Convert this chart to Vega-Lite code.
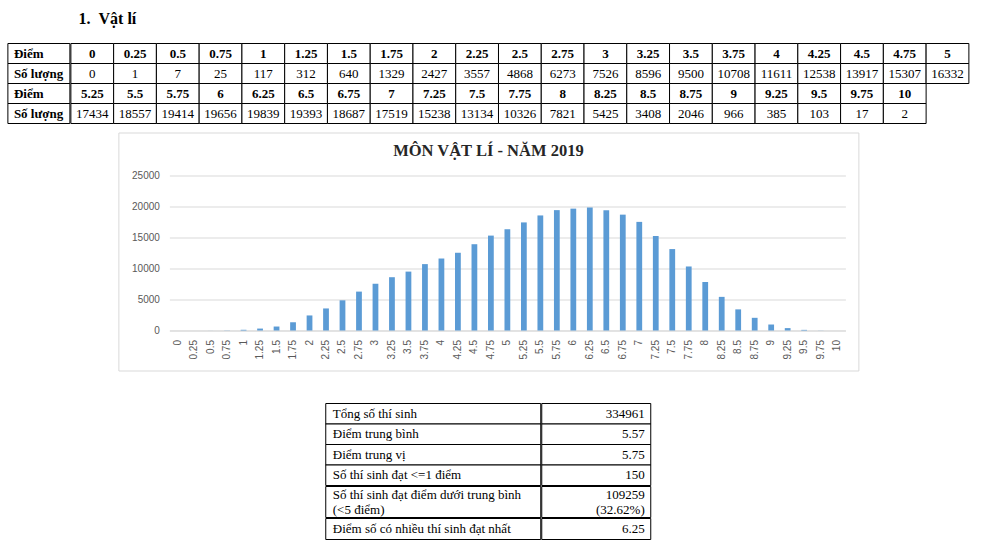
{
  "$schema": "https://vega.github.io/schema/vega-lite/v6.json",
  "background": "white",
  "padding": {"left": 6.5, "top": 10.5, "right": 5, "bottom": 2},
  "title": {"text": "1.\u00a0\u00a0Vật lí", "anchor": "start", "frame": "group", "dx": 71, "offset": 16, "font": "Liberation Serif", "fontSize": 16, "fontWeight": "bold", "color": "black"},
  "config": {"view": {"stroke": null}},
  "datasets": {
    "diem": [
      {"diem": 0, "so_luong": 0, "hang": 1},
      {"diem": 0.25, "so_luong": 1, "hang": 1},
      {"diem": 0.5, "so_luong": 7, "hang": 1},
      {"diem": 0.75, "so_luong": 25, "hang": 1},
      {"diem": 1, "so_luong": 117, "hang": 1},
      {"diem": 1.25, "so_luong": 312, "hang": 1},
      {"diem": 1.5, "so_luong": 640, "hang": 1},
      {"diem": 1.75, "so_luong": 1329, "hang": 1},
      {"diem": 2, "so_luong": 2427, "hang": 1},
      {"diem": 2.25, "so_luong": 3557, "hang": 1},
      {"diem": 2.5, "so_luong": 4868, "hang": 1},
      {"diem": 2.75, "so_luong": 6273, "hang": 1},
      {"diem": 3, "so_luong": 7526, "hang": 1},
      {"diem": 3.25, "so_luong": 8596, "hang": 1},
      {"diem": 3.5, "so_luong": 9500, "hang": 1},
      {"diem": 3.75, "so_luong": 10708, "hang": 1},
      {"diem": 4, "so_luong": 11611, "hang": 1},
      {"diem": 4.25, "so_luong": 12538, "hang": 1},
      {"diem": 4.5, "so_luong": 13917, "hang": 1},
      {"diem": 4.75, "so_luong": 15307, "hang": 1},
      {"diem": 5, "so_luong": 16332, "hang": 1},
      {"diem": 5.25, "so_luong": 17434, "hang": 2},
      {"diem": 5.5, "so_luong": 18557, "hang": 2},
      {"diem": 5.75, "so_luong": 19414, "hang": 2},
      {"diem": 6, "so_luong": 19656, "hang": 2},
      {"diem": 6.25, "so_luong": 19839, "hang": 2},
      {"diem": 6.5, "so_luong": 19393, "hang": 2},
      {"diem": 6.75, "so_luong": 18687, "hang": 2},
      {"diem": 7, "so_luong": 17519, "hang": 2},
      {"diem": 7.25, "so_luong": 15238, "hang": 2},
      {"diem": 7.5, "so_luong": 13134, "hang": 2},
      {"diem": 7.75, "so_luong": 10326, "hang": 2},
      {"diem": 8, "so_luong": 7821, "hang": 2},
      {"diem": 8.25, "so_luong": 5425, "hang": 2},
      {"diem": 8.5, "so_luong": 3408, "hang": 2},
      {"diem": 8.75, "so_luong": 2046, "hang": 2},
      {"diem": 9, "so_luong": 966, "hang": 2},
      {"diem": 9.25, "so_luong": 385, "hang": 2},
      {"diem": 9.5, "so_luong": 103, "hang": 2},
      {"diem": 9.75, "so_luong": 17, "hang": 2},
      {"diem": 10, "so_luong": 2, "hang": 2}
    ],
    "nhan": [
      {"nhan": "Điểm"},
      {"nhan": "Số lượng"},
      {"nhan": "Điểm"},
      {"nhan": "Số lượng"}
    ],
    "tomtat": [
      {"chi_tieu": "Tổng số thí sinh", "gia_tri": "334961"},
      {"chi_tieu": "Điểm trung bình", "gia_tri": "5.57"},
      {"chi_tieu": "Điểm trung vị", "gia_tri": "5.75"},
      {"chi_tieu": "Số thí sinh đạt <=1 điểm", "gia_tri": "150"},
      {"chi_tieu": ["Số thí sinh đạt điểm dưới trung bình", "(<5 điểm)"], "gia_tri": ["109259", "(32.62%)"]},
      {"chi_tieu": "Điểm số có nhiều thí sinh đạt nhất", "gia_tri": "6.25"}
    ]
  },
  "spacing": 31,
  "center": true,
  "vconcat": [
    {
      "spacing": 7,
      "center": true,
      "vconcat": [
        {
          "spacing": -1,
          "hconcat": [
            {
              "width": 62,
              "height": 80,
              "data": {"name": "nhan"},
              "transform": [{"window": [{"op": "row_number", "as": "dong"}]}],
              "encoding": {
                "y": {"field": "dong", "type": "ordinal", "axis": null, "scale": {"paddingInner": 0, "paddingOuter": 0}},
                "x": {"datum": "nhan", "type": "nominal", "axis": null, "scale": {"paddingInner": 0, "paddingOuter": 0}}
              },
              "layer": [
                {"mark": {"type": "rect", "fill": "white", "stroke": "black", "strokeWidth": 1}},
                {
                  "mark": {"type": "text", "align": "left", "dx": 6, "font": "Liberation Serif", "fontSize": 13, "fontWeight": "bold", "color": "black"},
                  "encoding": {
                    "x": {"datum": "nhan", "type": "nominal", "bandPosition": 0},
                    "text": {"field": "nhan", "type": "nominal"}
                  }
                }
              ]
            },
            {
              "width": 898,
              "height": 80,
              "data": {"name": "diem"},
              "transform": [
                {"window": [{"op": "row_number", "as": "cot"}], "groupby": ["hang"]},
                {"fold": ["diem", "so_luong"], "as": ["loai", "gia_tri"]},
                {"calculate": "(datum.hang - 1) * 2 + (datum.loai == 'diem' ? 1 : 2)", "as": "dong"}
              ],
              "encoding": {
                "x": {"field": "cot", "type": "ordinal", "axis": null, "scale": {"paddingInner": 0, "paddingOuter": 0}},
                "y": {"field": "dong", "type": "ordinal", "axis": null, "scale": {"paddingInner": 0, "paddingOuter": 0}}
              },
              "layer": [
                {"mark": {"type": "rect", "fill": "white", "stroke": "black", "strokeWidth": 1}},
                {
                  "transform": [{"filter": "datum.loai == 'diem'"}],
                  "mark": {"type": "text", "font": "Liberation Serif", "fontSize": 13, "fontWeight": "bold", "color": "black"},
                  "encoding": {"text": {"field": "gia_tri", "type": "nominal"}}
                },
                {
                  "transform": [{"filter": "datum.loai != 'diem'"}],
                  "mark": {"type": "text", "font": "Liberation Serif", "fontSize": 13, "color": "black"},
                  "encoding": {"text": {"field": "gia_tri", "type": "nominal"}}
                }
              ]
            }
          ]
        },
        {
          "width": 740,
          "height": 238,
          "view": {"stroke": "#d9d9d9", "strokeWidth": 1},
          "title": {"text": "MÔN VẬT LÍ - NĂM 2019", "font": "Liberation Serif", "fontSize": 16.5, "fontWeight": "bold", "color": "#262626", "anchor": "middle", "frame": "group", "offset": -27},
          "data": {"name": "diem"},
          "mark": {"type": "bar", "color": "#5B9BD5"},
          "encoding": {
            "x": {
              "field": "diem", "type": "ordinal",
              "scale": {"range": [51, 727], "paddingInner": 0.65, "paddingOuter": 0.325},
              "axis": {"title": null, "offset": -40, "labelAngle": -90, "ticks": false, "domainColor": "#d9d9d9", "labelColor": "#595959", "labelFont": "Liberation Sans", "labelFontSize": 10, "labelPadding": 9, "labelOverlap": false, "grid": false}
            },
            "y": {
              "field": "so_luong", "type": "quantitative",
              "scale": {"domain": [0, 25000], "range": [198, 43], "nice": false},
              "axis": {"title": null, "offset": -51, "values": [0, 5000, 10000, 15000, 20000, 25000], "format": "d", "ticks": false, "domain": false, "gridColor": "#d9d9d9", "labelColor": "#595959", "labelFont": "Liberation Sans", "labelFontSize": 10, "labelPadding": 10}
            }
          }
        }
      ]
    },
    {
      "spacing": -1,
      "vconcat": [
        {
          "spacing": -1,
          "hconcat": [
            {
              "width": 215, "height": 82,
              "data": {"name": "tomtat"},
              "transform": [{"window": [{"op": "row_number", "as": "stt"}]}, {"filter": "datum.stt <= 4"}],
              "encoding": {
                "y": {"field": "stt", "type": "ordinal", "axis": null, "scale": {"paddingInner": 0, "paddingOuter": 0}},
                "x": {"datum": "chi_tieu", "type": "nominal", "axis": null, "scale": {"paddingInner": 0, "paddingOuter": 0}}
              },
              "layer": [
                {"mark": {"type": "rect", "fill": "white", "stroke": "black", "strokeWidth": 1}},
                {
                  "mark": {"type": "text", "align": "left", "dx": 7, "font": "Liberation Serif", "fontSize": 13, "lineHeight": 15, "color": "black"},
                  "encoding": {"x": {"datum": "chi_tieu", "type": "nominal", "bandPosition": 0}, "text": {"field": "chi_tieu", "type": "nominal"}}
                }
              ]
            },
            {
              "width": 109, "height": 82,
              "data": {"name": "tomtat"},
              "transform": [{"window": [{"op": "row_number", "as": "stt"}]}, {"filter": "datum.stt <= 4"}],
              "encoding": {
                "y": {"field": "stt", "type": "ordinal", "axis": null, "scale": {"paddingInner": 0, "paddingOuter": 0}},
                "x": {"datum": "gia_tri", "type": "nominal", "axis": null, "scale": {"paddingInner": 0, "paddingOuter": 0}}
              },
              "layer": [
                {"mark": {"type": "rect", "fill": "white", "stroke": "black", "strokeWidth": 1}},
                {
                  "mark": {"type": "text", "align": "right", "dx": -6, "font": "Liberation Serif", "fontSize": 13, "lineHeight": 15, "color": "black"},
                  "encoding": {"x": {"datum": "gia_tri", "type": "nominal", "bandPosition": 1}, "text": {"field": "gia_tri", "type": "nominal"}}
                }
              ]
            }
          ]
        },
        {
          "spacing": -1,
          "hconcat": [
            {
              "width": 215, "height": 31,
              "data": {"name": "tomtat"},
              "transform": [{"window": [{"op": "row_number", "as": "stt"}]}, {"filter": "datum.stt == 5"}],
              "encoding": {
                "y": {"field": "stt", "type": "ordinal", "axis": null, "scale": {"paddingInner": 0, "paddingOuter": 0}},
                "x": {"datum": "chi_tieu", "type": "nominal", "axis": null, "scale": {"paddingInner": 0, "paddingOuter": 0}}
              },
              "layer": [
                {"mark": {"type": "rect", "fill": "white", "stroke": "black", "strokeWidth": 1}},
                {
                  "mark": {"type": "text", "align": "left", "dx": 7, "dy": -7.5, "font": "Liberation Serif", "fontSize": 13, "lineHeight": 15, "color": "black"},
                  "encoding": {"x": {"datum": "chi_tieu", "type": "nominal", "bandPosition": 0}, "text": {"field": "chi_tieu", "type": "nominal"}}
                }
              ]
            },
            {
              "width": 109, "height": 31,
              "data": {"name": "tomtat"},
              "transform": [{"window": [{"op": "row_number", "as": "stt"}]}, {"filter": "datum.stt == 5"}],
              "encoding": {
                "y": {"field": "stt", "type": "ordinal", "axis": null, "scale": {"paddingInner": 0, "paddingOuter": 0}},
                "x": {"datum": "gia_tri", "type": "nominal", "axis": null, "scale": {"paddingInner": 0, "paddingOuter": 0}}
              },
              "layer": [
                {"mark": {"type": "rect", "fill": "white", "stroke": "black", "strokeWidth": 1}},
                {
                  "mark": {"type": "text", "align": "right", "dx": -6, "dy": -7.5, "font": "Liberation Serif", "fontSize": 13, "lineHeight": 15, "color": "black"},
                  "encoding": {"x": {"datum": "gia_tri", "type": "nominal", "bandPosition": 1}, "text": {"field": "gia_tri", "type": "nominal"}}
                }
              ]
            }
          ]
        },
        {
          "spacing": -1,
          "hconcat": [
            {
              "width": 215, "height": 21,
              "data": {"name": "tomtat"},
              "transform": [{"window": [{"op": "row_number", "as": "stt"}]}, {"filter": "datum.stt == 6"}],
              "encoding": {
                "y": {"field": "stt", "type": "ordinal", "axis": null, "scale": {"paddingInner": 0, "paddingOuter": 0}},
                "x": {"datum": "chi_tieu", "type": "nominal", "axis": null, "scale": {"paddingInner": 0, "paddingOuter": 0}}
              },
              "layer": [
                {"mark": {"type": "rect", "fill": "white", "stroke": "black", "strokeWidth": 1}},
                {
                  "mark": {"type": "text", "align": "left", "dx": 7, "font": "Liberation Serif", "fontSize": 13, "lineHeight": 15, "color": "black"},
                  "encoding": {"x": {"datum": "chi_tieu", "type": "nominal", "bandPosition": 0}, "text": {"field": "chi_tieu", "type": "nominal"}}
                }
              ]
            },
            {
              "width": 109, "height": 21,
              "data": {"name": "tomtat"},
              "transform": [{"window": [{"op": "row_number", "as": "stt"}]}, {"filter": "datum.stt == 6"}],
              "encoding": {
                "y": {"field": "stt", "type": "ordinal", "axis": null, "scale": {"paddingInner": 0, "paddingOuter": 0}},
                "x": {"datum": "gia_tri", "type": "nominal", "axis": null, "scale": {"paddingInner": 0, "paddingOuter": 0}}
              },
              "layer": [
                {"mark": {"type": "rect", "fill": "white", "stroke": "black", "strokeWidth": 1}},
                {
                  "mark": {"type": "text", "align": "right", "dx": -6, "font": "Liberation Serif", "fontSize": 13, "lineHeight": 15, "color": "black"},
                  "encoding": {"x": {"datum": "gia_tri", "type": "nominal", "bandPosition": 1}, "text": {"field": "gia_tri", "type": "nominal"}}
                }
              ]
            }
          ]
        }
      ]
    }
  ]
}
